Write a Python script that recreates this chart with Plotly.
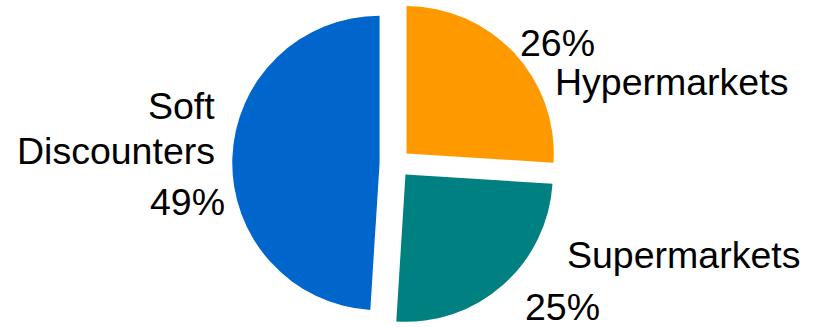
import plotly.graph_objects as go

# Data
categories = ["Hypermarkets", "Supermarkets", "Soft Discounters"]
shares = [26, 25, 49]
colors = ["#FF9900", "#008080", "#0066CC"]

# Label line layout per slice: which lines, in which order
label_lines = [
    [f"{shares[0]}%", "Hypermarkets"],
    ["Supermarkets", f"{shares[1]}%"],
    ["Soft", "Discounters", f"{shares[2]}%"],
]
# positions (px) for each line: (x, y-center, anchor)
label_pos = [
    [(518, 43, "left"), (553, 82, "left")],
    [(565, 255, "left"), (523, 307, "left")],
    [(217, 106, "right"), (217, 151, "right"), (227, 202, "right")],
]

W, H = 816, 327
FONT = "Arial, Liberation Sans, sans-serif"

fig = go.Figure(go.Pie(
    labels=categories,
    values=shares,
    marker=dict(colors=colors, line=dict(width=0)),
    sort=False,
    direction="clockwise",
    rotation=0,
    pull=[0.1, 0.1, 0.11],
    textinfo="none",
    hoverinfo="label+percent",
    domain=dict(x=[0, 0.97], y=[0, 1]),
    showlegend=False,
))

annotations = []
for lines, poss in zip(label_lines, label_pos):
    for txt, (px, py, anchor) in zip(lines, poss):
        annotations.append(dict(
            text=txt, x=px / W, y=1 - py / H, xref="paper", yref="paper",
            xanchor=anchor, yanchor="middle", showarrow=False,
            font=dict(family=FONT, size=37.5, color="#000000"),
        ))

fig.update_layout(
    width=W, height=H,
    margin=dict(l=0, r=0, t=0, b=0),
    paper_bgcolor="white", plot_bgcolor="white",
    annotations=annotations,
)

fig.write_html("out.html")
